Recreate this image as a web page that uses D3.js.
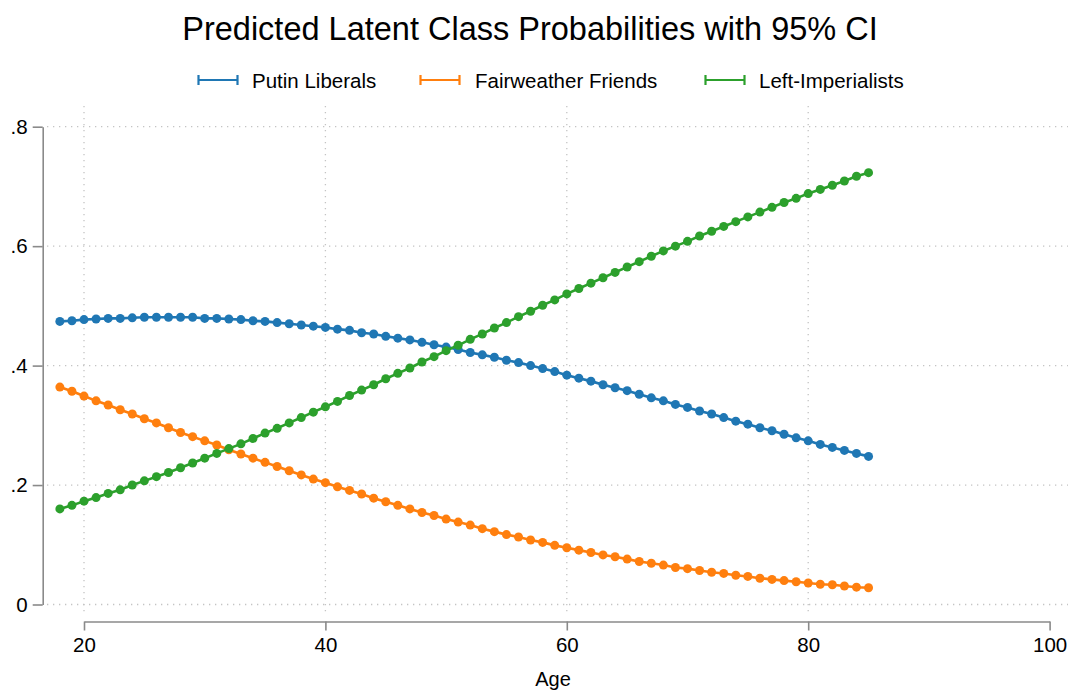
<!DOCTYPE html>
<html>
<head>
<meta charset="utf-8">
<script src="https://cdn.jsdelivr.net/npm/d3@7"></script>
<style>
  html, body { margin: 0; padding: 0; background: #fff; }
  svg { display: block; font-family: "Liberation Sans", Arial, Helvetica, sans-serif; }
</style>
</head>
<body>
<svg id="chart" width="1071" height="691"></svg>
<script>
// Ages at which predictions were computed
const ages = d3.range(18, 86);

// Predicted probabilities by latent class, ages 18..85
const putinLiberals = [
  .474, .475, .477, .478, .479, .479, .480, .481, .481, .481, .481, .481,
  .479, .479, .478, .477, .475, .474, .472, .470, .468, .466, .464, .461,
  .459, .455, .453, .449, .446, .443, .439, .435, .431, .427, .422, .418,
  .414, .409, .405, .400, .395, .390, .384, .379, .374, .368, .363, .358,
  .352, .346, .341, .335, .330, .324, .319, .313, .307, .302, .296, .291,
  .285, .279, .274, .268, .263, .258, .253, .248
];
const fairweatherFriends = [
  .364, .357, .349, .341, .334, .326, .319, .311, .304, .296, .288, .281,
  .274, .267, .259, .252, .245, .238, .231, .224, .217, .210, .204, .197,
  .191, .185, .178, .172, .166, .160, .154, .149, .143, .138, .133, .127,
  .122, .117, .113, .108, .104, .099, .095, .091, .087, .083, .080, .076,
  .072, .069, .066, .062, .060, .057, .054, .052, .049, .047, .044, .042,
  .040, .038, .036, .034, .033, .031, .029, .028
];
const leftImperialists = [
  .160, .166, .173, .179, .186, .192, .200, .207, .214, .221, .229, .237,
  .245, .253, .261, .269, .278, .287, .295, .304, .313, .322, .331, .340,
  .350, .359, .368, .378, .387, .396, .406, .415, .425, .434, .444, .453,
  .463, .472, .482, .491, .501, .510, .520, .529, .538, .547, .556, .565,
  .574, .583, .592, .600, .608, .617, .625, .633, .641, .649, .657, .665,
  .673, .680, .688, .695, .702, .709, .717, .723
];

const seriesNames = ["Putin Liberals", "Fairweather Friends", "Left-Imperialists"];
const seriesColors = ["#1f77b4", "#ff7f0e", "#2ca02c"];
const xTicks = [20, 40, 60, 80, 100];
const yTicks = [0, .2, .4, .6, .8];
const yTickLabels = ["0", ".2", ".4", ".6", ".8"];

const titleText = "Predicted Latent Class Probabilities with 95% CI";
const xTitle = "Age";

const series = [putinLiberals, fairweatherFriends, leftImperialists].map((vals, i) => ({
  name: seriesNames[i],
  color: seriesColors[i],
  points: ages.map((a, j) => ({ age: a, p: vals[j] }))
}));

const svg = d3.select("#chart");

const x = d3.scaleLinear().domain([20, 100]).range([84, 1049.6]);
const y = d3.scaleLinear().domain([0, .8]).range([604.5, 126.7]);

const plotLeft = 47, plotRight = 1068, plotTop = 106, plotBottom = 615;
const gridColor = "#c4c4c4";
const axisColor = "#8a8a8a";

// Title
svg.append("text")
  .attr("x", 530).attr("y", 40)
  .attr("text-anchor", "middle")
  .attr("font-size", 32.5)
  .attr("fill", "#000")
  .text(titleText);

// Legend: range-cap symbols with labels
const legendItems = [
  { x0: 198, tx: 252 },
  { x0: 420, tx: 475 },
  { x0: 705, tx: 759 }
];
legendItems.forEach((it, i) => {
  const g = svg.append("g").attr("stroke", seriesColors[i]).attr("stroke-width", 2.2);
  g.append("line").attr("x1", it.x0).attr("x2", it.x0 + 40).attr("y1", 80).attr("y2", 80);
  g.append("line").attr("x1", it.x0 + 0.5).attr("x2", it.x0 + 0.5).attr("y1", 75).attr("y2", 85);
  g.append("line").attr("x1", it.x0 + 39.5).attr("x2", it.x0 + 39.5).attr("y1", 75).attr("y2", 85);
  svg.append("text")
    .attr("x", it.tx).attr("y", 87.5)
    .attr("font-size", 20.5)
    .attr("fill", "#000")
    .text(seriesNames[i]);
});

// Gridlines
const grid = svg.append("g")
  .attr("stroke", gridColor)
  .attr("stroke-width", 1.3)
  .attr("stroke-dasharray", "1.3,4.7");
grid.selectAll("line.h").data(yTicks).join("line")
  .attr("class", "h")
  .attr("x1", plotLeft).attr("x2", plotRight)
  .attr("y1", d => y(d)).attr("y2", d => y(d));
grid.selectAll("line.v").data(xTicks.filter(d => d < 100)).join("line")
  .attr("class", "v")
  .attr("y1", plotTop).attr("y2", plotBottom)
  .attr("x1", d => x(d)).attr("x2", d => x(d));

// Y axis
const yAxis = d3.axisLeft(y)
  .tickValues(yTicks)
  .tickFormat((d, i) => yTickLabels[i])
  .tickSize(10)
  .tickSizeOuter(0)
  .tickPadding(5);
const gy = svg.append("g").attr("transform", "translate(42.7,0)").call(yAxis);
gy.select(".domain").attr("stroke", axisColor).attr("stroke-width", 1.6);
gy.selectAll(".tick line").attr("stroke", axisColor).attr("stroke-width", 1.6);
gy.selectAll(".tick text")
  .attr("font-size", 20.5)
  .attr("font-family", "Liberation Sans, Arial, sans-serif")
  .attr("fill", "#000");

// X axis
const xAxis = d3.axisBottom(x)
  .tickValues(xTicks)
  .tickFormat(d3.format("d"))
  .tickSize(9)
  .tickSizeOuter(0)
  .tickPadding(7);
const gx = svg.append("g").attr("transform", "translate(0,621.5)").call(xAxis);
gx.select(".domain").attr("stroke", axisColor).attr("stroke-width", 1.6);
gx.selectAll(".tick line").attr("stroke", axisColor).attr("stroke-width", 1.6);
gx.selectAll(".tick text")
  .attr("font-size", 20.5)
  .attr("font-family", "Liberation Sans, Arial, sans-serif")
  .attr("fill", "#000");

// Axis title
svg.append("text")
  .attr("x", 553).attr("y", 686)
  .attr("text-anchor", "middle")
  .attr("font-size", 20)
  .attr("fill", "#000")
  .text(xTitle);

// Lines and markers
const line = d3.line().x(d => x(d.age)).y(d => y(d.p));
const sg = svg.selectAll("g.series").data(series).join("g").attr("class", "series");
sg.append("path")
  .attr("d", d => line(d.points))
  .attr("fill", "none")
  .attr("stroke", d => d.color)
  .attr("stroke-width", 2.6);
sg.each(function (d) {
  d3.select(this).selectAll("circle").data(d.points).join("circle")
    .attr("cx", p => x(p.age))
    .attr("cy", p => y(p.p))
    .attr("r", 4.5)
    .attr("fill", d.color);
});
</script>
</body>
</html>
